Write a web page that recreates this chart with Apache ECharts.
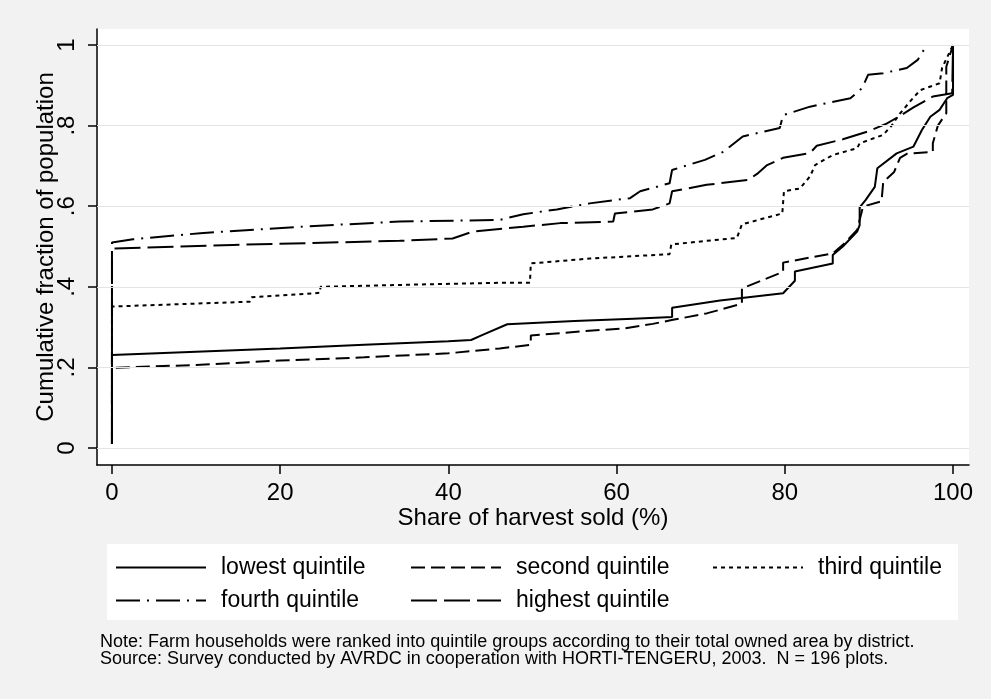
<!DOCTYPE html>
<html>
<head>
<meta charset="utf-8">
<title>Cumulative distribution of share of harvest sold</title>
<script src="https://cdn.jsdelivr.net/npm/echarts@6/dist/echarts.min.js"></script>
<style>
  html, body { margin: 0; padding: 0; background: #f2f2f2; }
  #chart { width: 991px; height: 699px; }
</style>
</head>
<body>
<div id="chart"></div>
<script>
// Empirical cumulative distributions of the share of harvest sold, by farm-size quintile.
const seriesNames = ['lowest quintile', 'second quintile', 'third quintile', 'fourth quintile', 'highest quintile'];

const lowestX = [0, 0, 10, 20, 30, 40, 42.7, 44, 47, 55, 62, 66.6, 66.6, 72.3, 79.8, 81.2, 81.2, 85.7, 85.7, 86.9, 88.6, 88.9, 88.9, 89.6, 90.7, 91.0, 93.3, 95.3, 96.3, 97.3, 98.4, 99.3, 100, 100];
const lowestY = [0.01, 0.231, 0.239, 0.247, 0.256, 0.265, 0.268, 0.28, 0.307, 0.315, 0.321, 0.325, 0.348, 0.366, 0.384, 0.415, 0.438, 0.458, 0.479, 0.50, 0.537, 0.553, 0.597, 0.615, 0.648, 0.694, 0.731, 0.748, 0.789, 0.822, 0.839, 0.868, 0.876, 1.0];

const secondX = [0, 0, 10, 20, 30, 40, 46.1, 49.8, 49.8, 55.6, 61, 64.3, 66.7, 70.7, 74.9, 74.9, 79.8, 79.8, 85.7, 86.9, 88.6, 89.3, 91.5, 91.7, 93.0, 93.7, 94.5, 97.6, 97.6, 98.2, 98.9, 99.2, 99.2, 100];
const secondY = [0.01, 0.199, 0.206, 0.217, 0.225, 0.235, 0.247, 0.256, 0.279, 0.289, 0.297, 0.308, 0.318, 0.334, 0.358, 0.396, 0.437, 0.46, 0.483, 0.504, 0.541, 0.599, 0.612, 0.66, 0.685, 0.72, 0.73, 0.735, 0.756, 0.80, 0.822, 0.83, 0.946, 1.0];

const thirdX = [0, 0, 16.4, 16.6, 24.7, 24.8, 35, 46.1, 49.7, 49.8, 56.8, 66.3, 66.5, 70.7, 74.3, 74.9, 79.7, 79.9, 81.8, 83.0, 83.6, 85.7, 88.6, 88.9, 91.7, 92.7, 93.7, 94.9, 96.1, 98.4, 98.7, 100];
const thirdY = [0.01, 0.351, 0.363, 0.374, 0.385, 0.40, 0.405, 0.41, 0.41, 0.458, 0.47, 0.481, 0.505, 0.514, 0.521, 0.555, 0.582, 0.637, 0.644, 0.674, 0.702, 0.727, 0.744, 0.756, 0.777, 0.80, 0.83, 0.86, 0.888, 0.905, 0.943, 1.0];

const fourthX = [0, 0, 2.5, 10.5, 22.4, 34.2, 46.1, 48.9, 52.9, 56.8, 61.6, 62.8, 66.3, 66.6, 70.5, 72.7, 75.0, 79.4, 79.8, 83.0, 87.8, 89.2, 89.9, 91.7, 94.5, 95.8, 96.9];
const fourthY = [0.01, 0.51, 0.518, 0.533, 0.549, 0.562, 0.566, 0.58, 0.592, 0.607, 0.62, 0.637, 0.657, 0.69, 0.715, 0.735, 0.773, 0.794, 0.826, 0.847, 0.868, 0.893, 0.926, 0.93, 0.943, 0.963, 1.0];

const highestX = [0, 0, 14.4, 34.2, 40.5, 42.9, 48.9, 53.3, 59.6, 59.8, 64.3, 66.3, 66.6, 70.7, 75.6, 76.7, 77.9, 79.8, 83.0, 83.8, 86.9, 90.1, 92.1, 93.7, 95.3, 97.6, 99.9, 100];
const highestY = [0.01, 0.495, 0.504, 0.514, 0.52, 0.537, 0.549, 0.558, 0.562, 0.582, 0.592, 0.607, 0.637, 0.653, 0.665, 0.68, 0.702, 0.72, 0.732, 0.75, 0.766, 0.787, 0.805, 0.824, 0.845, 0.872, 0.88, 1.0];

const xTicks = [0, 20, 40, 60, 80, 100];
const xTickLabels = ['0', '20', '40', '60', '80', '100'];
const yTicks = [0, 0.2, 0.4, 0.6, 0.8, 1];
const yTickLabels = ['0', '.2', '.4', '.6', '.8', '1'];

const xTitle = 'Share of harvest sold (%)';
const yTitle = 'Cumulative fraction of population';
const noteLines = [
  'Note: Farm households were ranked into quintile groups according to their total owned area by district.',
  'Source: Survey conducted by AVRDC in cooperation with HORTI-TENGERU, 2003.  N = 196 plots.'
];

const allX = [lowestX, secondX, thirdX, fourthX, highestX];
const allY = [lowestY, secondY, thirdY, fourthY, highestY];

// Line patterns per quintile: solid, dash, dot, dash-dot, long dash
const linePatterns = ['solid', [14, 6], [4, 4], [24, 7, 2, 7], [26, 7]];

const FONT = '"Liberation Sans", Arial, Helvetica, sans-serif';

function tickLabel(ticks, labels) {
  return function (v) {
    for (let i = 0; i < ticks.length; i++) {
      if (Math.abs(ticks[i] - v) < 1e-6) return labels[i];
    }
    return '';
  };
}

const curveSeries = seriesNames.map(function (name, i) {
  return {
    name: name,
    type: 'line',
    data: allX[i].map(function (x, k) { return [x, allY[i][k]]; }),
    symbol: 'none',
    showSymbol: false,
    silent: true,
    z: 3,
    lineStyle: { color: '#000', width: 2, type: linePatterns[i] },
    itemStyle: { color: '#000' }
  };
});

// Horizontal reference lines at each y tick
const gridLineSeries = {
  name: 'grid',
  type: 'line',
  data: [],
  silent: true,
  z: 1,
  markLine: {
    silent: true,
    symbol: ['none', 'none'],
    label: { show: false },
    lineStyle: { color: '#e4e4e4', width: 1, type: 'solid' },
    data: yTicks.map(function (v) { return { yAxis: v }; })
  }
};

const legendText = { fontFamily: FONT, fontSize: 23, color: '#000', lineHeight: 23, padding: [0, 0, 0, 10] };
function legendColumn(left, names) {
  return {
    orient: 'vertical',
    left: left,
    top: 556,
    padding: 0,
    itemWidth: 90,
    itemHeight: 14,
    itemGap: 10,
    selectedMode: false,
    z: 5,
    data: names,
    itemStyle: { opacity: 0 },
    textStyle: legendText
  };
}

const option = {
  animation: false,
  backgroundColor: '#f2f2f2',
  grid: {
    left: 97, right: 22, top: 29, bottom: 234,
    show: true, backgroundColor: '#ffffff', borderWidth: 0
  },
  title: {
    left: 100, top: 634, padding: 0,
    text: noteLines.join('\n'),
    textStyle: { fontFamily: FONT, fontSize: 18, fontWeight: 'normal', color: '#000', lineHeight: 17 }
  },
  graphic: [{
    type: 'rect', left: 107, top: 544, z: 0, silent: true,
    shape: { width: 851, height: 76 },
    style: { fill: '#ffffff' }
  }],
  legend: [
    legendColumn(115, [seriesNames[0], seriesNames[3]]),
    legendColumn(410, [seriesNames[1], seriesNames[4]]),
    legendColumn(712, [seriesNames[2]])
  ],
  xAxis: {
    type: 'value', min: -1.78, max: 101.9,
    axisLine: { show: true, onZero: false, lineStyle: { color: '#000', width: 1.5 } },
    axisTick: { show: true, length: 9, customValues: xTicks, lineStyle: { color: '#000', width: 1.5 } },
    axisLabel: {
      customValues: xTicks, formatter: tickLabel(xTicks, xTickLabels),
      fontFamily: FONT, fontSize: 24, color: '#000', margin: 16
    },
    splitLine: { show: false },
    name: xTitle, nameLocation: 'middle', nameGap: 41, nameMoveOverlap: false,
    nameTextStyle: { fontFamily: FONT, fontSize: 24, color: '#000' }
  },
  yAxis: {
    type: 'value', min: -0.0422, max: 1.0397,
    axisLine: { show: true, onZero: false, lineStyle: { color: '#000', width: 1.5 } },
    axisTick: { show: true, length: 9, customValues: yTicks, lineStyle: { color: '#000', width: 1.5 } },
    axisLabel: {
      customValues: yTicks, formatter: tickLabel(yTicks, yTickLabels), rotate: 90,
      fontFamily: FONT, fontSize: 24, color: '#000', margin: 18
    },
    splitLine: { show: false },
    name: yTitle, nameLocation: 'middle', nameGap: 39, nameRotate: 90, nameMoveOverlap: false,
    nameTextStyle: { fontFamily: FONT, fontSize: 24, color: '#000' }
  },
  series: [gridLineSeries].concat(curveSeries)
};

const chart = echarts.init(document.getElementById('chart'), null, { renderer: 'canvas' });
chart.setOption(option);
</script>
</body>
</html>
